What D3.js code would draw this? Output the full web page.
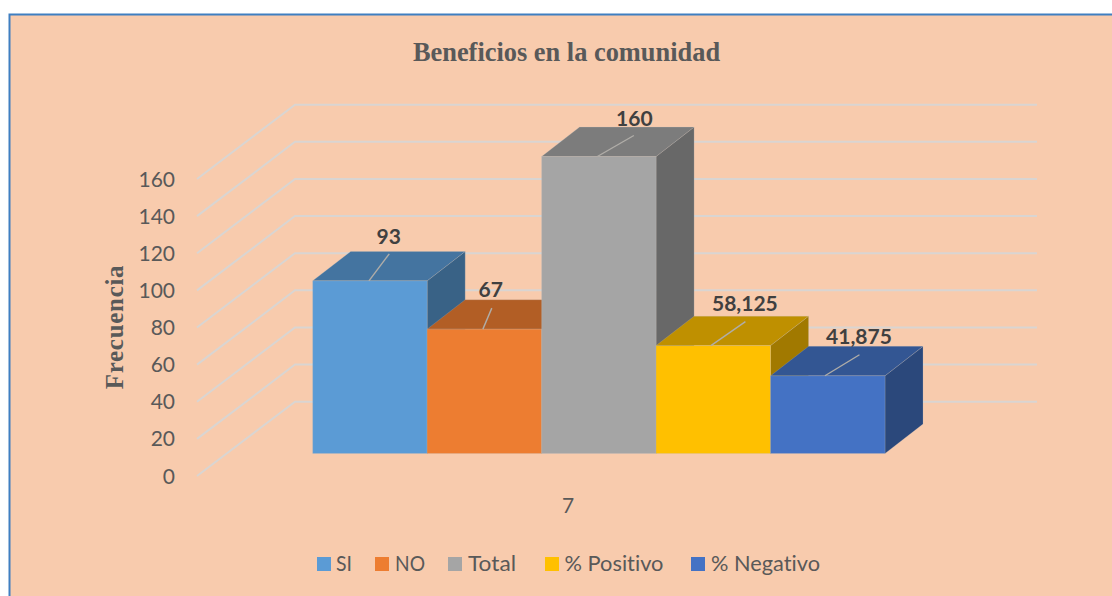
<!DOCTYPE html>
<html><head><meta charset="utf-8">
<script src="https://cdn.jsdelivr.net/npm/d3@7/dist/d3.min.js"></script>
<style>html,body{margin:0;padding:0;background:#fff}svg{display:block}text{font-variant-ligatures:none}</style>
</head><body><svg id="c" width="1112" height="596"></svg>
<script>
const series = ["SI","NO","Total","% Positivo","% Negativo"];
const values = [93,67,160,58.125,41.875];
const valueLabels = ["93","67","160","58,125","41,875"];
const colors = ["#5B9BD5","#ED7D31","#A5A5A5","#FFC000","#4472C4"];
const yTicks = [0,20,40,60,80,100,120,140,160];
const category = "7";
const title = "Beneficios en la comunidad";
const yTitle = "Frecuencia";

// layout
const labelNudge = [[18.8,-37],[6.4,-32],[35.5,-31],[31.6,-34.5],[31.2,-31.7]];
const leaderStart = [-1,-1.5,-1.5,-2.4,-2.8];
const leaderEnd = [[19.3,-27],[7.4,-21],[35,-21],[32.1,-24],[31.7,-21]];
const legendSwatchX = [317,375,448,545,691];
const legendTextX = [336,395,468,564.5,711];
const legendTextW = [16,30,48,99,109];

const svg = d3.select("#c");
const sans = "Lato, Carlito, 'Open Sans', sans-serif";
const serif = "'Liberation Serif', serif";

svg.append("rect").attr("x",9.5).attr("y",14.5).attr("width",1120).attr("height",600)
  .attr("fill","#F8CBAD").attr("stroke","#3F7FC1").attr("stroke-width",2);

const y = d3.scaleLinear().domain([0,160]).range([476,179]);
const x = d3.scaleBand().domain(series).range([312.7,885]);
const wall = {dx:98, dy:-74.3, left:197, right:1037};
const barDepth = {dx:38, dy:-29.4, base:-22.5};

// gridlines: floor-to-wall diagonal plus back wall line
svg.append("g").selectAll("path").data(yTicks).join("path")
  .attr("fill","none").attr("stroke","#D9D5D2").attr("stroke-width",2)
  .attr("d",t=>d3.line()([[wall.left,y(t)],[wall.left+wall.dx,y(t)+wall.dy],[wall.right,y(t)+wall.dy]]));

// tick labels
svg.append("g").selectAll("text").data(yTicks).join("text")
  .attr("x",175).attr("y",t=>y(t)+7.5).attr("text-anchor","end")
  .attr("font-family",sans).attr("font-size",21).attr("fill","#595959").text(d=>d);

// bars, left to right so later ones overlap earlier depth faces
const bars = svg.append("g").selectAll("g").data(series).join("g");
const line = d3.line();
bars.each(function(s,i){
  const g = d3.select(this);
  const x0 = x(s), x1 = x0 + x.bandwidth();
  const yb = y(0) + barDepth.base, yt = y(values[i]) + barDepth.base;
  const dx = barDepth.dx, dy = barDepth.dy;
  const base = d3.color(colors[i]);
  const shade = k => d3.rgb(base.r*k, base.g*k, base.b*k).formatHex();
  const edge = "rgba(190,190,190,0.22)";
  g.append("path").attr("d",line([[x1,yt],[x1+dx,yt+dy],[x1+dx,yb+dy],[x1,yb]])+"Z")
    .attr("fill",shade(0.63)).attr("stroke",edge);
  g.append("path").attr("d",line([[x0,yt],[x1,yt],[x1+dx,yt+dy],[x0+dx,yt+dy]])+"Z")
    .attr("fill",shade(0.75)).attr("stroke",edge);
  g.append("rect").attr("x",x0).attr("y",yt).attr("width",x1-x0).attr("height",yb-yt)
    .attr("fill",colors[i]).attr("stroke",edge);
});

// leader lines and data labels (on top of every bar)
series.forEach((s,i)=>{
  const cx = x(s)+x.bandwidth()/2, yt = y(values[i])+barDepth.base;
  svg.append("line").attr("x1",cx+leaderStart[i]).attr("y1",yt)
    .attr("x2",cx+leaderEnd[i][0]).attr("y2",yt+leaderEnd[i][1])
    .attr("stroke","#B0ADA8").attr("stroke-width",1.4);
  svg.append("text").attr("x",cx+labelNudge[i][0]).attr("y",yt+labelNudge[i][1])
    .attr("text-anchor","middle").attr("font-family",sans).attr("font-weight",700)
    .attr("font-size",21).attr("fill","#404040").text(valueLabels[i]);
});

// titles
svg.append("text").attr("x",566.5).attr("y",60.5).attr("text-anchor","middle")
  .attr("font-family",serif).attr("font-weight",700).attr("font-size",26.4)
  .attr("fill","#595959").text(title);
svg.append("text").attr("transform","translate(123,327) rotate(-90)").attr("text-anchor","middle")
  .attr("font-family",serif).attr("font-weight",700).attr("font-size",25).attr("letter-spacing",0.7)
  .attr("fill","#595959").text(yTitle);
svg.append("text").attr("x",568).attr("y",513).attr("text-anchor","middle")
  .attr("font-family",sans).attr("font-size",21).attr("fill","#595959").text(category);

// legend
const lg = svg.append("g").selectAll("g").data(series).join("g");
lg.append("rect").attr("x",(d,i)=>legendSwatchX[i]).attr("y",557).attr("width",14).attr("height",14)
  .attr("fill",(d,i)=>colors[i]);
lg.append("text").attr("x",(d,i)=>legendTextX[i]).attr("y",571).attr("font-family",sans)
  .attr("font-size",21).attr("fill","#595959")
  .attr("textLength",(d,i)=>legendTextW[i]).attr("lengthAdjust","spacingAndGlyphs").text(d=>d);
</script></body></html>
